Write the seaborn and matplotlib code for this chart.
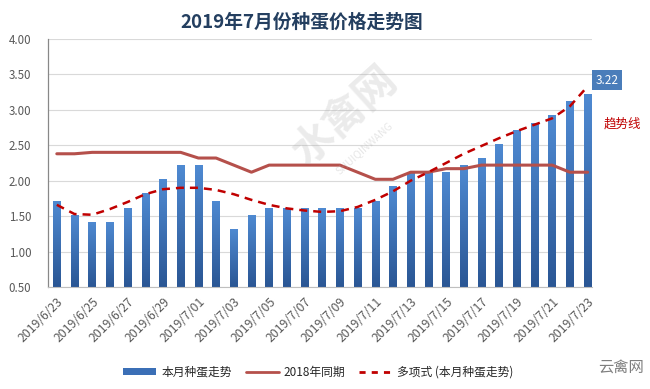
import numpy as np
import pandas as pd
import matplotlib
matplotlib.use("Agg")
import matplotlib.pyplot as plt
import seaborn as sns
from matplotlib.colors import LinearSegmentedColormap
from matplotlib.lines import Line2D
from matplotlib.patches import Patch

# ---------------- data ----------------
dates = ["2019/6/23", "2019/6/24", "2019/6/25", "2019/6/26", "2019/6/27", "2019/6/28",
         "2019/6/29", "2019/6/30", "2019/7/01", "2019/7/02", "2019/7/03", "2019/7/04",
         "2019/7/05", "2019/7/06", "2019/7/07", "2019/7/08", "2019/7/09", "2019/7/10",
         "2019/7/11", "2019/7/12", "2019/7/13", "2019/7/14", "2019/7/15", "2019/7/16",
         "2019/7/17", "2019/7/18", "2019/7/19", "2019/7/20", "2019/7/21", "2019/7/22",
         "2019/7/23"]
price_2019 = [1.72, 1.52, 1.42, 1.42, 1.62, 1.82, 2.02, 2.22, 2.22, 1.72, 1.32, 1.52,
              1.62, 1.62, 1.62, 1.62, 1.62, 1.62, 1.72, 1.92, 2.12, 2.12, 2.12, 2.22,
              2.32, 2.52, 2.72, 2.82, 2.92, 3.12, 3.22]
price_2018 = [2.38, 2.38, 2.40, 2.40, 2.40, 2.40, 2.40, 2.40, 2.32, 2.32, 2.22, 2.12,
              2.22, 2.22, 2.22, 2.22, 2.22, 2.12, 2.02, 2.02, 2.12, 2.12, 2.17, 2.17,
              2.22, 2.22, 2.22, 2.22, 2.22, 2.12, 2.12]
trend_2019 = [1.66, 1.53, 1.52, 1.60, 1.70, 1.81, 1.88, 1.90, 1.90, 1.87, 1.81, 1.73,
              1.66, 1.61, 1.58, 1.56, 1.57, 1.63, 1.73, 1.85, 2.00, 2.12, 2.25, 2.38,
              2.49, 2.60, 2.70, 2.79, 2.88, 3.05, 3.33]
yticks = [0.5, 1.0, 1.5, 2.0, 2.5, 3.0, 3.5, 4.0]
series_names = ["本月种蛋走势", "2018年同期", "多项式 (本月种蛋走势)"]
title = "2019年7月份种蛋价格走势图"

df = pd.DataFrame({"date": dates, "idx": np.arange(len(dates)),
                   "p2019": price_2019, "p2018": price_2018, "trend": trend_2019})

# ---------------- style ----------------
sns.set_theme(style="white")
plt.rcParams["font.family"] = ["Noto Sans CJK SC", "DejaVu Sans"]

fig = plt.figure(figsize=(6.5, 3.89), dpi=100)
ax = fig.add_axes([0.0738, 0.262, 0.837, 0.638])

# watermarks (behind everything)
fig.text(0.53, 0.70, "水禽网", ha="center", va="center", fontsize=30, rotation=42,
         color="#B0B0B0", alpha=0.25, fontweight="bold", zorder=0)
fig.text(0.56, 0.62, "SHUIQINWANG", ha="center", va="center", fontsize=7.5, rotation=42,
         color="#B0B0B0", alpha=0.3, zorder=0)
ax.patch.set_alpha(0)

bar_top = "#4F8AD2"
bar_bot = "#2A5694"
sns.barplot(data=df, x="idx", y="p2019", color="#3B6FB6", width=0.42,
            ax=ax, saturation=1, zorder=2)

# gradient fill for the bars
cmap = LinearSegmentedColormap.from_list("g", [bar_bot, bar_top])
grad = np.linspace(0, 1, 256).reshape(-1, 1)
for p in list(ax.patches):
    x0 = p.get_x()
    w, h = p.get_width(), p.get_height()
    im = ax.imshow(grad, extent=[x0, x0 + w, 0.5, h], origin="lower",
                   cmap=cmap, aspect="auto", zorder=2.1)
    im.set_clip_path(p)
    p.set_edgecolor("none")

sns.lineplot(data=df, x="idx", y="p2018", color="#B5504B", linewidth=2.2,
             ax=ax, zorder=3)
sns.lineplot(data=df, x="idx", y="trend", color="#C00000", linewidth=1.8,
             ax=ax, zorder=4, linestyle=(0, (3.2, 2.4)))

ax.set_xlim(-0.5, 30.25)
ax.set_ylim(0.5, 4.0)
ax.set_aspect("auto")
ax.set_yticks(yticks)
ax.set_yticklabels([f"{v:.2f}" for v in yticks], fontsize=8.3, color="#595959")
ax.set_xticks(range(0, len(dates), 2))
ax.set_xticklabels([dates[i] for i in range(0, len(dates), 2)], rotation=45,
                   ha="right", rotation_mode="anchor", fontsize=8.8, color="#595959")
ax.tick_params(axis="x", pad=6, length=0)
ax.tick_params(axis="y", pad=12, length=0)
ax.set_xlabel("")
ax.set_ylabel("")
ax.grid(axis="y", color="#D9D9D9", linewidth=0.8, zorder=0)
ax.set_axisbelow(True)
for s in ["top", "right"]:
    ax.spines[s].set_visible(False)
ax.spines["left"].set_color("#888888")
ax.spines["left"].set_linewidth(0.9)
ax.spines["bottom"].set_color("#BFBFBF")
ax.spines["bottom"].set_linewidth(0.8)

# title
fig.text(0.465, 0.943, title, ha="center", va="center", fontsize=13.5,
         fontweight="bold", color="#243F60")

# value label on last bar
ax.annotate(f"{price_2019[-1]:.2f}", xy=(30, price_2019[-1]), xytext=(14, 10),
            textcoords="offset points", ha="center", va="center", fontsize=8.5,
            color="white",
            bbox=dict(boxstyle="square,pad=0.3", fc="#4A7DBA", ec="none"))

fig.text(0.957, 0.68, "趋势线", ha="center", va="center", fontsize=9, color="#C00000")

fig.text(0.955, 0.055, "云禽网", ha="center", va="center", fontsize=11, color="#7F7F7F")

# legend
handles = [Patch(facecolor="#3B6FB6", edgecolor="none"),
           Line2D([0], [0], color="#B5504B", lw=2),
           Line2D([0], [0], color="#C00000", lw=2, linestyle=(0, (2.2, 2.2)))]
fig.legend(handles, series_names, loc="center", bbox_to_anchor=(0.49, 0.043),
           ncol=3, frameon=False, fontsize=8.5, handlelength=2.8, handleheight=0.6,
           columnspacing=1.2, handletextpad=0.4)

fig.savefig("out.png", dpi=100)
